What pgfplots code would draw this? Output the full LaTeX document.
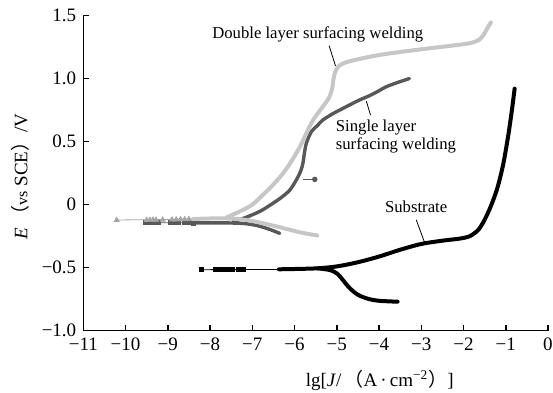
\documentclass[border=0pt]{standalone}
\usepackage{fontspec}
\setmainfont{Liberation Serif}
\newfontfamily\cjk{Noto Sans CJK SC}
\usepackage{pgfplots}
\pgfplotsset{compat=1.18}
\definecolor{lg}{RGB}{198,198,198}
\definecolor{dg}{RGB}{88,88,88}
\definecolor{mk}{RGB}{165,165,165}
\begin{document}
\begin{tikzpicture}
\begin{axis}[
  at={(0,0)}, anchor=south west,
  width=232.35pt, height=157.6pt, scale only axis,
  xmin=-11, xmax=0, ymin=-1, ymax=1.5,
  clip=false,
  axis lines*=left,
  axis line style={line width=0.75pt},
  tick align=inside,
  major tick length=3pt,
  tick style={line width=0.75pt, black},
  xtick={-11,-10,-9,-8,-7,-6,-5,-4,-3,-2,-1,0},
  xticklabels={−11,−10,−9,−8,−7,−6,−5,−4,−3,−2,−1,0},
  ytick={-1,-0.5,0,0.5,1,1.5},
  yticklabels={−1.0,−0.5,0,0.5,1.0,1.5},
  ticklabel style={font=\fontsize{9.5}{11}\selectfont},
  xlabel={lg[\textit{J}/\,{\cjk （}A\,·\,cm\textsuperscript{−2}{\cjk ）}]},
  ylabel={\textit{E}\,{\cjk （}{\fontsize{8}{9}\selectfont vs} SCE{\cjk ）}/V},
  xlabel style={at={(axis description cs:0.638,-0.159)}, anchor=center, font=\fontsize{9.5}{11}\selectfont},
  ylabel style={at={(axis description cs:-0.136,0.49)}, anchor=center, font=\fontsize{9.5}{11}\selectfont},
]
% ---------------- Single layer (dark gray) ----------------
\addplot[dg, line width=0.4pt] coordinates {(-9.53,-0.143) (-8.3,-0.145)};
\addplot[dg, only marks, mark=square*, mark size=1pt] coordinates {
 (-9.53,-0.143) (-9.45,-0.143) (-9.38,-0.143) (-9.3,-0.143) (-9.22,-0.143)
 (-8.95,-0.143) (-8.85,-0.143) (-8.74,-0.143) (-8.6,-0.144) (-8.5,-0.144) (-8.4,-0.145)};
\addplot[dg, line width=1.7pt, smooth, line cap=round] coordinates {
 (-8.4,-0.145) (-8.0,-0.145) (-7.6,-0.145) (-7.2,-0.15) (-6.9,-0.165)
 (-6.6,-0.195) (-6.35,-0.228)};
\addplot[dg, line width=1.7pt, smooth, line cap=round] coordinates {
 (-7.45,-0.135) (-7.14,-0.1) (-6.8,-0.05) (-6.51,0.011) (-6.3,0.06)
 (-6.11,0.116) (-5.95,0.2) (-5.85,0.27) (-5.8,0.33) (-5.77,0.40)
 (-5.72,0.487) (-5.60,0.579) (-5.45,0.63) (-5.33,0.671) (-5.1,0.72)
 (-4.93,0.75) (-4.7,0.79) (-4.46,0.83) (-4.22,0.865) (-3.99,0.905)
 (-3.83,0.935) (-3.55,0.97) (-3.28,1.0)};
\addplot[dg, line width=0.5pt, mark=*, mark size=1.1pt, mark indices={2}] coordinates {(-5.8,0.2) (-5.52,0.2)};
% ---------------- Double layer (light gray) ----------------
\addplot[mk, line width=0.4pt] coordinates {(-10.21,-0.122) (-8.4,-0.115)};
\addplot[mk, only marks, mark=triangle*, mark size=1.4pt] coordinates {
 (-10.21,-0.122) (-9.5,-0.122) (-9.42,-0.121) (-9.35,-0.12) (-9.28,-0.12)
 (-9.12,-0.12) (-8.9,-0.119) (-8.8,-0.118) (-8.7,-0.117) (-8.6,-0.116) (-8.5,-0.115)};
\addplot[lg, line width=2pt, smooth, line cap=round] coordinates {
 (-8.4,-0.114) (-8.0,-0.11) (-7.6,-0.11) (-7.3,-0.115) (-7.0,-0.13)
 (-6.74,-0.148) (-6.4,-0.175) (-6.11,-0.20) (-5.8,-0.225) (-5.46,-0.245)};
\addplot[lg, line width=2pt, smooth, line cap=round] coordinates {
 (-7.6,-0.1) (-7.3,-0.055) (-7.0,0.0) (-6.74,0.08) (-6.5,0.16)
 (-6.27,0.249) (-6.1,0.33) (-5.96,0.407) (-5.84,0.48) (-5.72,0.566)
 (-5.56,0.671) (-5.33,0.777) (-5.18,0.85) (-5.11,0.92) (-5.08,0.99)
 (-5.04,1.05) (-4.95,1.10) (-4.77,1.13) (-4.4,1.16) (-3.99,1.187)
 (-3.4,1.215) (-2.80,1.24) (-2.3,1.26) (-1.86,1.28) (-1.62,1.31)
 (-1.5,1.36) (-1.42,1.41) (-1.35,1.445)};
% ---------------- Substrate (black) ----------------
\addplot[black, line width=0.4pt] coordinates {(-8.21,-0.516) (-6.37,-0.514)};
\addplot[black, only marks, mark=square*, mark size=1pt] coordinates {
 (-8.21,-0.516) (-7.88,-0.516) (-7.81,-0.516) (-7.74,-0.516) (-7.64,-0.516)
 (-7.58,-0.516) (-7.46,-0.516) (-7.34,-0.516) (-7.27,-0.516) (-7.22,-0.516)};
\addplot[black, line width=2pt, smooth, line cap=round] coordinates {
 (-6.37,-0.513) (-5.5,-0.506) (-5.0,-0.49) (-4.5,-0.457) (-4.0,-0.412)
 (-3.5,-0.358) (-3.0,-0.312) (-2.5,-0.286) (-2.1,-0.27) (-1.85,-0.25)
 (-1.65,-0.2) (-1.5,-0.12) (-1.35,-0.01) (-1.2,0.13) (-1.06,0.32)
 (-0.94,0.55) (-0.85,0.76) (-0.79,0.92)};
\addplot[black, line width=2pt, smooth, line cap=round] coordinates {
 (-5.45,-0.505) (-5.15,-0.52) (-4.98,-0.55) (-4.85,-0.6)
 (-4.70,-0.66) (-4.5,-0.715) (-4.25,-0.748) (-3.99,-0.763)
 (-3.56,-0.77)};
% ---------------- Annotations ----------------
\node[font=\fontsize{8.35}{9}\selectfont] at (axis cs:-5.45,1.353) {Double layer surfacing welding};
\draw[line width=0.4pt] (axis cs:-5.18,1.26) -- (axis cs:-5.03,1.10);
\node[font=\fontsize{8.35}{9}\selectfont, align=left, anchor=west, inner sep=0pt] at (axis cs:-5.03,0.537) {Single layer\\surfacing welding};
\draw[line width=0.4pt] (axis cs:-4.30,0.82) -- (axis cs:-4.20,0.71);
\node[font=\fontsize{8.35}{9}\selectfont] at (axis cs:-3.12,-0.021) {Substrate};
\draw[line width=0.4pt] (axis cs:-3.12,-0.12) -- (axis cs:-2.91,-0.31);
\end{axis}
\pgfresetboundingbox
\path (-41.65pt,-30.65pt) rectangle (234.85pt,165.35pt);
\end{tikzpicture}
\end{document}
